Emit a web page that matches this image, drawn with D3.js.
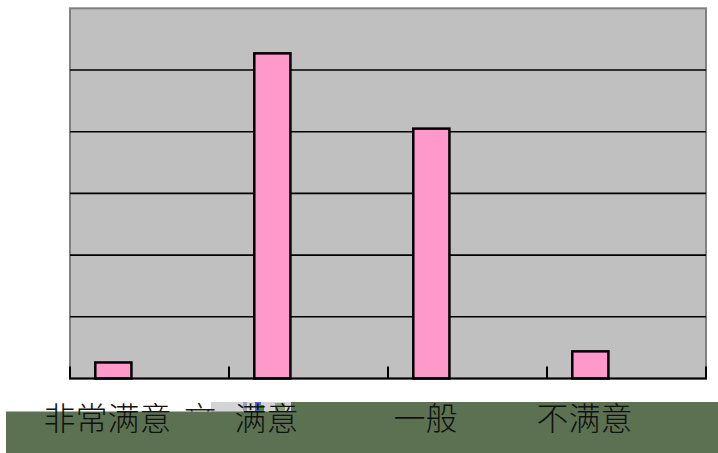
<!DOCTYPE html>
<html>
<head>
<meta charset="utf-8">
<script src="https://cdn.jsdelivr.net/npm/d3@7"></script>
<style>
  html, body { margin: 0; padding: 0; background: #fff; }
  svg { display: block; }
</style>
</head>
<body>
<svg id="chart"></svg>
<script>
// Satisfaction survey - share of answers per category
const categories = ['非常满意', '满意', '一般', '不满意'];
const series = ['满意度', '系列2', '系列3'];
const values = [2.6, 52.7, 40.5, 4.4];
const yTicks = [0, 10, 20, 30, 40, 50, 60];

const W = 718, H = 453;
const plot = { left: 70, right: 706, top: 8.3, bottom: 378.5 };

const svg = d3.select('#chart').attr('width', W).attr('height', H);

// Scales
const x = d3.scaleBand().domain(categories).range([plot.left, plot.right]).padding(0);
const xInner = d3.scaleBand().domain(series).range([0, x.bandwidth()]).paddingInner(0).paddingOuter(0.7);
const y = d3.scaleLinear().domain([0, 60]).range([plot.bottom, plot.top]);

// Plot background
svg.append('rect')
    .attr('x', plot.left).attr('y', plot.top)
    .attr('width', plot.right - plot.left).attr('height', plot.bottom - plot.top)
    .attr('fill', '#c0c0c0')
    .attr('stroke', '#808080').attr('stroke-width', 2);

// Horizontal grid lines
svg.append('g')
  .selectAll('line')
  .data(yTicks.slice(1, -1))
  .join('line')
    .attr('x1', plot.left).attr('x2', plot.right)
    .attr('y1', d => y(d)).attr('y2', d => y(d))
    .attr('stroke', '#000').attr('stroke-width', 1.6);

// Bars (only the first series carries values)
svg.append('g')
  .selectAll('rect')
  .data(values.map((v, i) => ({ cat: categories[i], v })))
  .join('rect')
    .attr('x', d => x(d.cat) + xInner(series[0]))
    .attr('y', d => y(d.v))
    .attr('width', xInner.bandwidth())
    .attr('height', d => y(0) - y(d.v))
    .attr('fill', '#ff99cc')
    .attr('stroke', '#000').attr('stroke-width', 2.5);

// X axis line with inward ticks at category boundaries
svg.append('line')
    .attr('x1', plot.left - 1).attr('x2', plot.right + 1)
    .attr('y1', y(0)).attr('y2', y(0))
    .attr('stroke', '#000').attr('stroke-width', 2);

const tickPos = categories.map(c => x(c)).concat([x.range()[1]]);
svg.append('g')
  .selectAll('line')
  .data(tickPos)
  .join('line')
    .attr('x1', d => d).attr('x2', d => d)
    .attr('y1', y(0)).attr('y2', y(0) - 12)
    .attr('stroke', '#000').attr('stroke-width', 2);

// Label band underneath
svg.append('rect')
    .attr('x', 6).attr('y', 402)
    .attr('width', W - 6).attr('height', H - 402)
    .attr('fill', '#5b7151');

// white patch and the pixel noise strip over the top of the band
svg.append('rect')
    .attr('x', 6).attr('y', 402).attr('width', 205).attr('height', 9.5)
    .attr('fill', '#fff');
const noise = svg.append('g');
noise.append('rect').attr('x', 211).attr('y', 402).attr('width', 80).attr('height', 9.5).attr('fill', '#d4d4d6');
noise.append('rect').attr('x', 243).attr('y', 402).attr('width', 4).attr('height', 9.5).attr('fill', '#9aa0b8');
noise.append('rect').attr('x', 255).attr('y', 402).attr('width', 6).attr('height', 9).attr('fill', '#5866c8');
noise.append('rect').attr('x', 260).attr('y', 405).attr('width', 4).attr('height', 6).attr('fill', '#4b8a2a');
noise.append('rect').attr('x', 275).attr('y', 403).attr('width', 10).attr('height', 8).attr('fill', '#8fa080');

// "文" fragment – only its top shows
svg.append('clipPath').attr('id', 'topClip')
  .append('rect').attr('x', 0).attr('y', 390).attr('width', W).attr('height', 21.5);
svg.append('text')
    .attr('x', 200).attr('y', 430)
    .attr('text-anchor', 'middle')
    .attr('clip-path', 'url(#topClip)')
    .style('font-family', '"Noto Sans CJK SC"')
    .style('font-weight', 300)
    .style('font-size', '32px')
    .attr('fill', '#1a1a1a')
    .text('文');

// Category labels
svg.append('g')
  .selectAll('text')
  .data(categories)
  .join('text')
    .attr('x', d => x(d) + x.bandwidth() / 2 - 42)
    .attr('y', 430)
    .attr('text-anchor', 'middle')
    .style('font-family', '"Noto Sans CJK SC"')
    .style('font-weight', 300)
    .style('font-size', '32px')
    .attr('fill', '#111')
    .text(d => d);
</script>
</body>
</html>
